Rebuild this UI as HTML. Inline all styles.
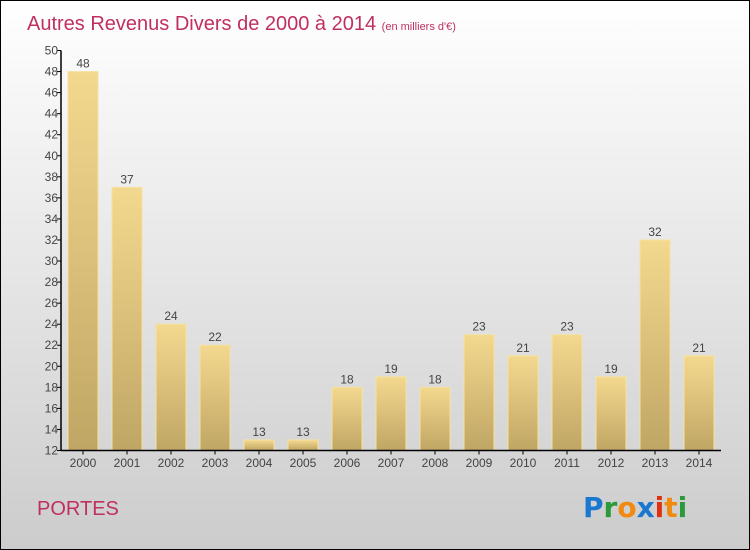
<!DOCTYPE html>
<html><head><meta charset="utf-8"><style>
body{margin:0}
#c{width:748px;height:548px;border:1px solid #000;background:linear-gradient(#fff,#ccc);position:relative;overflow:hidden;font-family:"Liberation Sans",sans-serif}
</style></head><body>
<div id="c">
<svg id="s" width="748" height="548" style="position:absolute;left:0;top:0">
<defs><linearGradient id="g" x1="0" y1="0" x2="0" y2="1"><stop offset="0" stop-color="#f3d98f"/><stop offset="1" stop-color="#c0a664"/></linearGradient></defs>
<text x="26" y="29" font-size="20" fill="#c0305f">Autres Revenus Divers de 2000 à 2014 <tspan font-size="11">(en milliers d'€)</tspan></text>
<text x="36" y="514" font-size="20" fill="#c0305f">PORTES</text>
<g font-size="28" font-weight="bold" font-family="DejaVu Sans, sans-serif"><text x="582" y="516"><tspan fill="#1a78d0">P</tspan><tspan fill="#2a9a3a">r</tspan><tspan fill="#f08a10">o</tspan><tspan fill="#1a78d0">x</tspan><tspan fill="#e03010">i</tspan><tspan fill="#f08a10">t</tspan><tspan fill="#2a9a3a">i</tspan></text></g>
</svg>
</div>
<script>
const categories=["2000","2001","2002","2003","2004","2005","2006","2007","2008","2009","2010","2011","2012","2013","2014"];
const values=[48,37,24,22,13,13,18,19,18,23,21,23,19,32,21];
const yTicks=[12,14,16,18,20,22,24,26,28,30,32,34,36,38,40,42,44,46,48,50];
const s=document.getElementById('s');
const NS='http://www.w3.org/2000/svg';
const x0=60,x1=720,yMin=12,yMax=50,yTop=49.5,yBot=449.5;
const band=(x1-x0)/categories.length;
function y(v){return yBot-(v-yMin)*(yBot-yTop)/(yMax-yMin);}
function xc(i){return x0+band*(i+0.5);}
function mk(t,a,txt){const e=document.createElementNS(NS,t);for(const k in a)e.setAttribute(k,a[k]);if(txt!=null)e.textContent=txt;s.appendChild(e);return e;}
values.forEach((v,i)=>{
 const r=mk('rect',{x:xc(i)-15,y:y(v),width:30,height:yBot-y(v),fill:'url(#g)',stroke:'#f5e2a0','stroke-width':1});
 
 
 const t=mk('text',{x:xc(i),y:y(v)-4,'text-anchor':'middle','font-size':12,fill:'#444'},v);
 
 
 const l=mk('text',{x:xc(i),y:466,'text-anchor':'middle','font-size':12,fill:'#444'},categories[i]);
 
 
 mk('line',{x1:xc(i),x2:xc(i),y1:yBot,y2:yBot+4,stroke:'#000'});
});
yTicks.forEach(v=>{
 mk('line',{x1:x0-4,x2:x0,y1:y(v),y2:y(v),stroke:'#000'});
 const t=mk('text',{x:x0-3,y:y(v)+4,'text-anchor':'end','font-size':12,fill:'#444'},v);
 
 
});
const ya=mk('line',{x1:x0,x2:x0,y1:yTop,y2:yBot,stroke:'#000','stroke-width':1.5});


const xa=mk('line',{x1:x0,x2:x1,y1:yBot,y2:yBot,stroke:'#000','stroke-width':1.5});


</script>
</body></html>
